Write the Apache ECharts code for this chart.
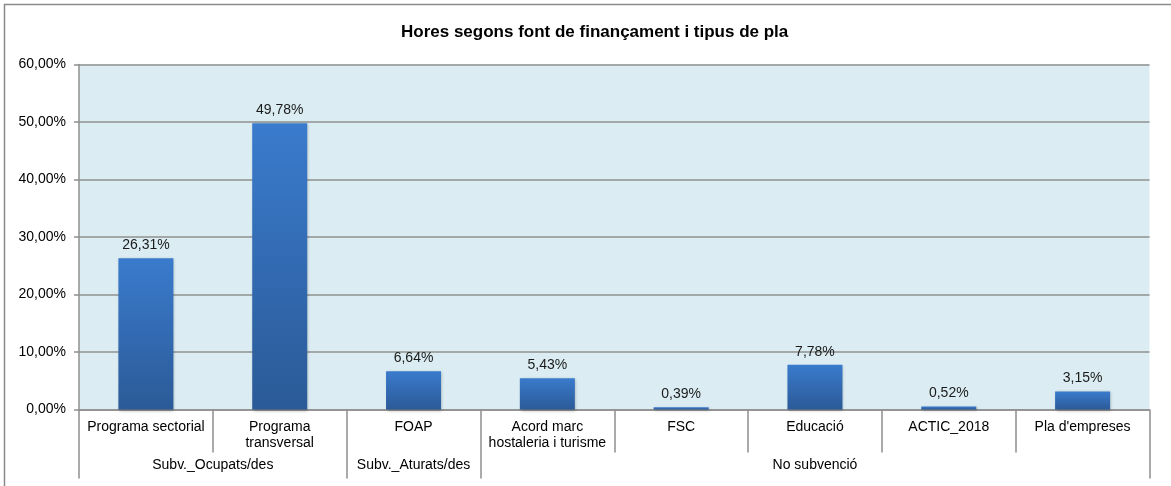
<!DOCTYPE html>
<html>
<head>
<meta charset="utf-8">
<script src="https://cdn.jsdelivr.net/npm/echarts@6/dist/echarts.min.js"></script>
<style>
  html, body { margin: 0; padding: 0; background: #fff; }
  #main { width: 1171px; height: 486px; }
</style>
</head>
<body>
<div id="main"></div>
<script>
var chartDom = document.getElementById('main');
var myChart = echarts.init(chartDom);

// dades
var titleText = 'Hores segons font de finançament i tipus de pla';
var categories = ['Programa sectorial', 'Programa\ntransversal', 'FOAP', 'Acord marc\nhostaleria i turisme', 'FSC', 'Educació', 'ACTIC_2018', "Pla d'empreses"];
var values = [26.31, 49.78, 6.64, 5.43, 0.39, 7.78, 0.52, 3.15];
var groups = ['Subv._Ocupats/des', 'Subv._Aturats/des', 'No subvenció'];
var groupSizes = [2, 1, 5];

// second level axis: half-category slots, boundaryGap false
var slots = [];
for (var i = 0; i <= categories.length * 2; i++) slots.push('');
var groupTicks = [0];
var groupLabels = [];
var pos = 0;
for (var g = 0; g < groups.length; g++) {
  var mid = pos + groupSizes[g]; // in half-slots
  slots[mid] = groups[g];
  groupLabels.push(mid);
  pos += groupSizes[g] * 2;
  groupTicks.push(pos);
}

function pct(v) {
  return v.toFixed(2).replace('.', ',') + '%';
}

var font = 'Liberation Sans, Arial, sans-serif';
var gray = '#8f8f8f';

var option = {
  animation: false,
  textStyle: { fontFamily: font },
  title: {
    text: titleText,
    left: 396,
    top: 19,
    textStyle: { fontFamily: font, fontSize: 17, fontWeight: 'bold', color: '#000' }
  },
  graphic: [{
    type: 'polyline',
    shape: { points: [[4.5, 700], [4.5, 4.5], [1400, 4.5]] },
    style: { fill: null, stroke: '#8a8a8a', lineWidth: 1.5 },
    silent: true
  }],
  grid: {
    left: 79,
    right: 21.5,
    top: 64.5,
    bottom: 76.5,
    show: true,
    backgroundColor: '#dbedf3',
    borderWidth: 0,
    outerBoundsMode: 'none'
  },
  xAxis: [{
    type: 'category',
    position: 'bottom',
    data: categories,
    axisLine: { lineStyle: { color: gray, width: 1.5 } },
    axisTick: { show: true, interval: 0, length: 43, lineStyle: { color: gray, width: 1.5 } },
    axisLabel: {
      interval: 0,
      margin: 10,
      color: '#000',
      fontSize: 14,
      lineHeight: 16,
      fontFamily: font
    }
  }, {
    type: 'category',
    position: 'bottom',
    boundaryGap: false,
    data: slots,
    axisLine: { show: false },
    axisTick: {
      show: true,
      length: 69,
      interval: function (idx) { return groupTicks.indexOf(idx) >= 0; },
      lineStyle: { color: gray, width: 1.5 }
    },
    axisLabel: {
      margin: 49,
      color: '#000',
      fontSize: 14,
      fontFamily: font,
      interval: function (idx) { return groupLabels.indexOf(idx) >= 0; }
    }
  }],
  yAxis: {
    type: 'value',
    min: 0,
    max: 60,
    interval: 10,
    axisLine: { show: true, lineStyle: { color: gray, width: 1.5 } },
    axisTick: { show: true, length: 5, lineStyle: { color: gray, width: 1.5 } },
    splitLine: { lineStyle: { color: gray, width: 1.5 } },
    axisLabel: {
      margin: 13,
      color: '#000',
      fontSize: 14,
      fontFamily: font,
      formatter: pct
    }
  },
  series: [{
    type: 'bar',
    xAxisIndex: 0,
    data: values,
    barWidth: 55,
    itemStyle: {
      color: new echarts.graphic.LinearGradient(0, 0, 0, 1, [
        { offset: 0, color: '#3a7bcd' },
        { offset: 1, color: '#2b5a97' }
      ]),
      shadowColor: 'rgba(0,0,0,0.25)',
      shadowBlur: 3,
      shadowOffsetX: 1,
      shadowOffsetY: 1
    },
    label: {
      show: true,
      position: 'top',
      distance: 6,
      color: '#1a1a1a',
      fontSize: 14,
      fontFamily: font,
      formatter: function (p) { return pct(p.value); }
    }
  }]
};

option && myChart.setOption(option);
</script>
</body>
</html>
